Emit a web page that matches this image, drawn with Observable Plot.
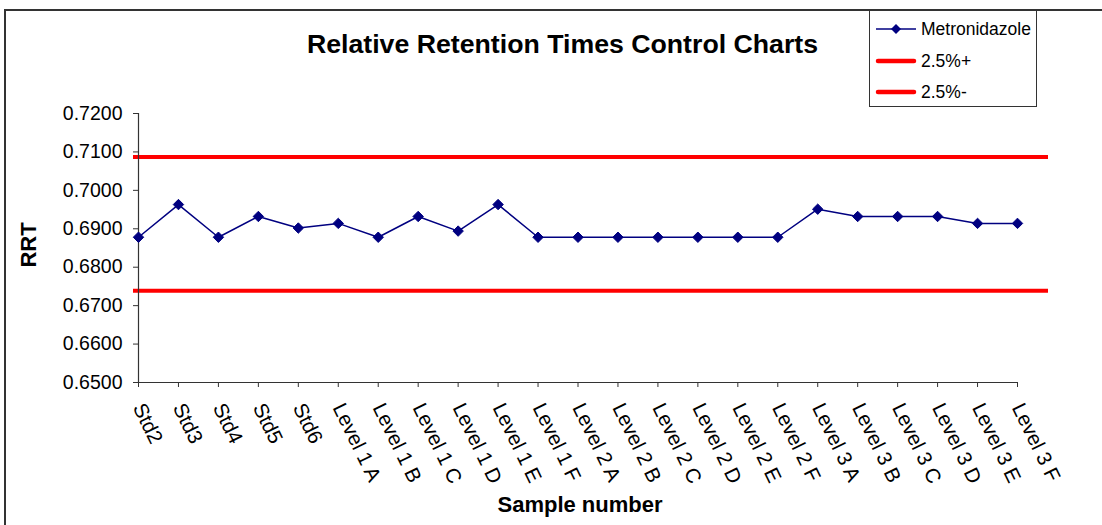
<!DOCTYPE html>
<html>
<head>
<meta charset="utf-8">
<script src="https://cdn.jsdelivr.net/npm/d3@7"></script>
<script src="https://cdn.jsdelivr.net/npm/@observablehq/plot@0.6"></script>
<style>
  html, body { margin: 0; padding: 0; background: #fff; overflow: hidden; }
  #wrap { position: relative; width: 1102px; height: 525px; overflow: hidden; font-family: "Liberation Sans", Arial, sans-serif; }
  #frame { position: absolute; left: 4px; top: 9px; width: 1300px; height: 700px; border: 2px solid #333; box-sizing: border-box; }
  #chart { position: absolute; left: 0; top: 0; }
  .title { position: absolute; font-weight: bold; white-space: nowrap; color: #000; }
  #legend { position: absolute; left: 869px; top: 10px; width: 168px; height: 97px; border: 1px solid #333; box-sizing: border-box; background: #fff; }
  .lrow { position: absolute; left: 5px; height: 24px; display: flex; align-items: center; font-size: 17.5px; }
  .lrow svg { margin-right: 4px; }
</style>
</head>
<body>
<div id="wrap">
  <div id="frame"></div>
  <div id="chart"></div>
  <div class="title" id="t1" style="left:0; width:1125px; text-align:center; top:29px; font-size:26.7px;">Relative Retention Times Control Charts</div>
  <div class="title" style="left:0; width:1160px; text-align:center; top:492px; font-size:22px;">Sample number</div>
  <div class="title" style="left:29px; top:245px; font-size:22px; transform: translate(-50%,-50%) rotate(-90deg);">RRT</div>
  <div id="legend"></div>
</div>
<script>
const samples = ["Std2","Std3","Std4","Std5","Std6",
  "Level 1 A","Level 1 B","Level 1 C","Level 1 D","Level 1 E","Level 1 F",
  "Level 2 A","Level 2 B","Level 2 C","Level 2 D","Level 2 E","Level 2 F",
  "Level 3 A","Level 3 B","Level 3 C","Level 3 D","Level 3 E","Level 3 F"];
const metronidazole = [0.6878,0.6963,0.6878,0.6932,0.6902,
  0.6914,0.6878,0.6932,0.6894,0.6963,0.6878,
  0.6878,0.6878,0.6878,0.6878,0.6878,0.6878,
  0.6951,0.6932,0.6932,0.6932,0.6914,0.6914];
const upperLimit = [0.7087];
const lowerLimit = [0.6739];
const yTicks = [0.65,0.66,0.67,0.68,0.69,0.70,0.71,0.72];
const seriesNames = ["Metronidazole","2.5%+","2.5%-"];

const data = samples.map((s, i) => ({sample: s, rrt: metronidazole[i]}));
const first = samples[0], last = samples[samples.length - 1];

const chart = Plot.plot({
  width: 1102,
  height: 525,
  marginLeft: 138,
  marginRight: 85,
  marginTop: 113,
  marginBottom: 143,
  style: {fontFamily: "'Liberation Sans', Arial, sans-serif", background: "transparent", color: "#000", overflow: "visible"},
  x: {type: "point", domain: samples, padding: 0, round: false},
  y: {domain: [yTicks[0], yTicks[yTicks.length - 1]]},
  marks: [
    Plot.ruleY(upperLimit, {stroke: "#ff0000", strokeWidth: 4, insetLeft: -5, insetRight: -31}),
    Plot.ruleY(lowerLimit, {stroke: "#ff0000", strokeWidth: 4, insetLeft: -5, insetRight: -31}),
    Plot.ruleX([first], {y1: yTicks[0], y2: yTicks[yTicks.length - 1], stroke: "#333", strokeWidth: 1.2}),
    Plot.ruleY([yTicks[0]], {x1: () => first, x2: () => last, stroke: "#333", strokeWidth: 1.2}),
    Plot.axisY(yTicks, {tickSize: 5, tickPadding: 11, tickFormat: d3.format(".4f"), fontSize: 19.5, stroke: "#333", fill: "#000", label: null}),
    Plot.axisX(samples, {tickSize: 5, tickPadding: 17, tickRotate: 64, fontSize: 20.5, stroke: "#333", fill: "#000", label: null}),
    Plot.line(data, {x: "sample", y: "rrt", stroke: "#000080", strokeWidth: 1.5}),
    Plot.dot(data, {x: "sample", y: "rrt", symbol: "diamond2", r: 4.7, fill: "#000080", stroke: "#000080", strokeWidth: 1})
  ]
});
document.getElementById("chart").appendChild(chart);

// Legend
const legend = document.getElementById("legend");
const rowsTop = [6, 38, 69];
seriesNames.forEach((name, i) => {
  const row = document.createElement("div");
  row.className = "lrow";
  row.style.top = rowsTop[i] + "px";
  let sym;
  if (i === 0) {
    sym = `<svg width="42" height="12"><line x1="1" y1="6" x2="41" y2="6" stroke="#000080" stroke-width="1.5"/><path d="M21,1 L26,6 L21,11 L16,6 Z" fill="#000080"/></svg>`;
  } else {
    sym = `<svg width="42" height="12"><line x1="3" y1="6" x2="39" y2="6" stroke="#ff0000" stroke-width="4.5" stroke-linecap="round"/></svg>`;
  }
  row.innerHTML = sym + `<span>${name}</span>`;
  legend.appendChild(row);
});
</script>
</body>
</html>
